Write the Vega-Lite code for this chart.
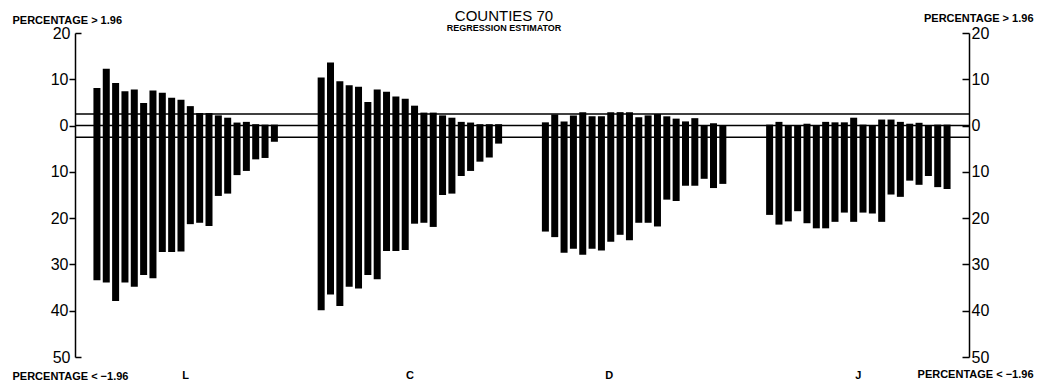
{
  "$schema": "https://vega.github.io/schema/vega-lite/v6.json",
  "width": 894,
  "height": 324,
  "autosize": "none",
  "padding": {"left": 75, "top": 33, "right": 71, "bottom": 28},
  "background": "white",
  "title": {
    "text": "COUNTIES  70",
    "subtitle": "REGRESSION ESTIMATOR",
    "anchor": "middle",
    "dx": -18,
    "dy": 24,
    "offset": 3,
    "font": "Liberation Sans",
    "fontSize": 15,
    "fontWeight": "normal",
    "color": "black",
    "subtitleFont": "Liberation Sans",
    "subtitleFontSize": 9,
    "subtitleFontWeight": "bold",
    "subtitleColor": "black",
    "subtitlePadding": 0
  },
  "config": {
    "view": {"stroke": null},
    "axis": {"grid": false}
  },
  "layer": [
    {
      "data": {
        "values": [
          {"group": "L", "bar": 1, "hi": 8.1, "lo": -33.4},
          {"group": "L", "bar": 2, "hi": 12.3, "lo": -33.9},
          {"group": "L", "bar": 3, "hi": 9.2, "lo": -37.9},
          {"group": "L", "bar": 4, "hi": 7.4, "lo": -33.9},
          {"group": "L", "bar": 5, "hi": 7.8, "lo": -34.8},
          {"group": "L", "bar": 6, "hi": 4.9, "lo": -32.3},
          {"group": "L", "bar": 7, "hi": 7.6, "lo": -33.0},
          {"group": "L", "bar": 8, "hi": 7.1, "lo": -27.3},
          {"group": "L", "bar": 9, "hi": 6.0, "lo": -27.3},
          {"group": "L", "bar": 10, "hi": 5.6, "lo": -27.2},
          {"group": "L", "bar": 11, "hi": 4.2, "lo": -21.3},
          {"group": "L", "bar": 12, "hi": 2.7, "lo": -21.0},
          {"group": "L", "bar": 13, "hi": 2.7, "lo": -21.7},
          {"group": "L", "bar": 14, "hi": 2.2, "lo": -15.2},
          {"group": "L", "bar": 15, "hi": 1.7, "lo": -14.7},
          {"group": "L", "bar": 16, "hi": 0.65, "lo": -10.7},
          {"group": "L", "bar": 17, "hi": 0.8, "lo": -9.8},
          {"group": "L", "bar": 18, "hi": 0.3, "lo": -7.3},
          {"group": "L", "bar": 19, "hi": 0.2, "lo": -7.0},
          {"group": "L", "bar": 20, "hi": 0.2, "lo": -3.5},
          {"group": "C", "bar": 1, "hi": 10.4, "lo": -39.9},
          {"group": "C", "bar": 2, "hi": 13.6, "lo": -36.5},
          {"group": "C", "bar": 3, "hi": 9.6, "lo": -39.0},
          {"group": "C", "bar": 4, "hi": 8.7, "lo": -34.8},
          {"group": "C", "bar": 5, "hi": 8.4, "lo": -35.2},
          {"group": "C", "bar": 6, "hi": 5.1, "lo": -32.3},
          {"group": "C", "bar": 7, "hi": 7.8, "lo": -33.2},
          {"group": "C", "bar": 8, "hi": 7.3, "lo": -27.1},
          {"group": "C", "bar": 9, "hi": 6.3, "lo": -27.1},
          {"group": "C", "bar": 10, "hi": 5.8, "lo": -26.9},
          {"group": "C", "bar": 11, "hi": 4.3, "lo": -21.2},
          {"group": "C", "bar": 12, "hi": 2.8, "lo": -21.0},
          {"group": "C", "bar": 13, "hi": 2.8, "lo": -21.9},
          {"group": "C", "bar": 14, "hi": 2.2, "lo": -15.0},
          {"group": "C", "bar": 15, "hi": 1.7, "lo": -14.7},
          {"group": "C", "bar": 16, "hi": 0.8, "lo": -10.9},
          {"group": "C", "bar": 17, "hi": 0.65, "lo": -9.8},
          {"group": "C", "bar": 18, "hi": 0.3, "lo": -7.8},
          {"group": "C", "bar": 19, "hi": 0.3, "lo": -6.9},
          {"group": "C", "bar": 20, "hi": 0.3, "lo": -3.9},
          {"group": "D", "bar": 1, "hi": 0.7, "lo": -22.9},
          {"group": "D", "bar": 2, "hi": 2.4, "lo": -24.1},
          {"group": "D", "bar": 3, "hi": 0.9, "lo": -27.5},
          {"group": "D", "bar": 4, "hi": 2.2, "lo": -26.6},
          {"group": "D", "bar": 5, "hi": 2.9, "lo": -27.9},
          {"group": "D", "bar": 6, "hi": 2.0, "lo": -26.6},
          {"group": "D", "bar": 7, "hi": 2.0, "lo": -27.0},
          {"group": "D", "bar": 8, "hi": 2.9, "lo": -25.1},
          {"group": "D", "bar": 9, "hi": 2.9, "lo": -23.6},
          {"group": "D", "bar": 10, "hi": 2.9, "lo": -24.8},
          {"group": "D", "bar": 11, "hi": 1.8, "lo": -21.0},
          {"group": "D", "bar": 12, "hi": 2.2, "lo": -21.0},
          {"group": "D", "bar": 13, "hi": 2.5, "lo": -21.8},
          {"group": "D", "bar": 14, "hi": 2.0, "lo": -16.0},
          {"group": "D", "bar": 15, "hi": 1.5, "lo": -16.3},
          {"group": "D", "bar": 16, "hi": 0.9, "lo": -13.0},
          {"group": "D", "bar": 17, "hi": 1.6, "lo": -13.0},
          {"group": "D", "bar": 18, "hi": 0.1, "lo": -11.5},
          {"group": "D", "bar": 19, "hi": 0.5, "lo": -13.5},
          {"group": "D", "bar": 20, "hi": 0.1, "lo": -12.6},
          {"group": "J", "bar": 1, "hi": 0.2, "lo": -19.3},
          {"group": "J", "bar": 2, "hi": 0.8, "lo": -21.4},
          {"group": "J", "bar": 3, "hi": 0.0, "lo": -20.7},
          {"group": "J", "bar": 4, "hi": 0.1, "lo": -18.5},
          {"group": "J", "bar": 5, "hi": 0.4, "lo": -21.1},
          {"group": "J", "bar": 6, "hi": 0.1, "lo": -22.2},
          {"group": "J", "bar": 7, "hi": 0.8, "lo": -22.2},
          {"group": "J", "bar": 8, "hi": 0.7, "lo": -20.8},
          {"group": "J", "bar": 9, "hi": 0.7, "lo": -18.8},
          {"group": "J", "bar": 10, "hi": 1.7, "lo": -20.8},
          {"group": "J", "bar": 11, "hi": 0.2, "lo": -18.8},
          {"group": "J", "bar": 12, "hi": 0.0, "lo": -19.0},
          {"group": "J", "bar": 13, "hi": 1.3, "lo": -20.8},
          {"group": "J", "bar": 14, "hi": 1.3, "lo": -14.9},
          {"group": "J", "bar": 15, "hi": 0.8, "lo": -15.4},
          {"group": "J", "bar": 16, "hi": 0.4, "lo": -11.9},
          {"group": "J", "bar": 17, "hi": 0.6, "lo": -12.8},
          {"group": "J", "bar": 18, "hi": 0.0, "lo": -10.9},
          {"group": "J", "bar": 19, "hi": 0.2, "lo": -13.3},
          {"group": "J", "bar": 20, "hi": 0.2, "lo": -13.7}
        ]
      },
      "mark": {"type": "bar", "color": "black"},
      "encoding": {
        "x": {
          "field": "group",
          "type": "nominal",
          "sort": ["L", "C", "D", "J"],
          "scale": {"paddingInner": 0.167, "paddingOuter": 0.077},
          "axis": {
            "orient": "bottom",
            "title": null,
            "domain": false,
            "ticks": false,
            "labelAngle": 0,
            "labelPadding": 12,
            "labelFont": "Liberation Sans",
            "labelFontSize": 11,
            "labelFontWeight": "bold",
            "labelColor": "black",
            "labelOffset": {"condition": {"test": "datum.value === 'D'", "value": -25}, "value": 0}
          }
        },
        "xOffset": {
          "field": "bar",
          "type": "ordinal",
          "scale": {"paddingInner": 0.25, "paddingOuter": 0.125}
        },
        "y": {
          "field": "hi",
          "type": "quantitative",
          "scale": {"domain": [-50, 20], "nice": false},
          "axis": {
            "orient": "left",
            "values": [20, 10, 0, -10, -20, -30, -40, -50],
            "labelExpr": "abs(datum.value)",
            "domainColor": "black",
            "domainWidth": 1.5,
            "tickColor": "black",
            "tickWidth": 1.5,
            "tickSize": {"condition": {"test": "datum.value === 20 || datum.value === -50", "value": -6}, "value": 6},
            "labelPadding": {"condition": {"test": "datum.value === 20 || datum.value === -50", "value": 11}, "value": 1},
            "labelFont": "Liberation Sans",
            "labelFontSize": 16,
            "labelColor": "black",
            "title": ["PERCENTAGE > 1.96", "PERCENTAGE < −1.96"],
            "titleAngle": 0,
            "titleAlign": "left",
            "titleBaseline": "alphabetic",
            "titleX": -63,
            "titleY": -10,
            "titleLineHeight": 356,
            "titleFont": "Liberation Sans",
            "titleFontSize": 11,
            "titleFontWeight": "bold",
            "titleColor": "black"
          }
        },
        "y2": {"field": "lo"}
      }
    },
    {
      "data": {"values": [{"ref": 2.5}, {"ref": 0}, {"ref": -2.5}]},
      "mark": {"type": "rule", "color": "black", "strokeWidth": 1.5},
      "encoding": {
        "y": {
          "field": "ref",
          "type": "quantitative",
          "axis": {
            "orient": "right",
            "values": [20, 10, 0, -10, -20, -30, -40, -50],
            "labelExpr": "abs(datum.value)",
            "domainColor": "black",
            "domainWidth": 1.5,
            "tickColor": "black",
            "tickWidth": 1.5,
            "tickSize": -7,
            "labelPadding": 9,
            "labelFont": "Liberation Sans",
            "labelFontSize": 16,
            "labelColor": "black",
            "title": ["PERCENTAGE > 1.96", "PERCENTAGE < −1.96"],
            "titleAngle": 0,
            "titleAlign": "right",
            "titleBaseline": "alphabetic",
            "titleX": 64,
            "titleY": -12,
            "titleLineHeight": 356,
            "titleFont": "Liberation Sans",
            "titleFontSize": 11,
            "titleFontWeight": "bold",
            "titleColor": "black"
          }
        }
      }
    }
  ],
  "resolve": {"axis": {"y": "independent"}}
}
